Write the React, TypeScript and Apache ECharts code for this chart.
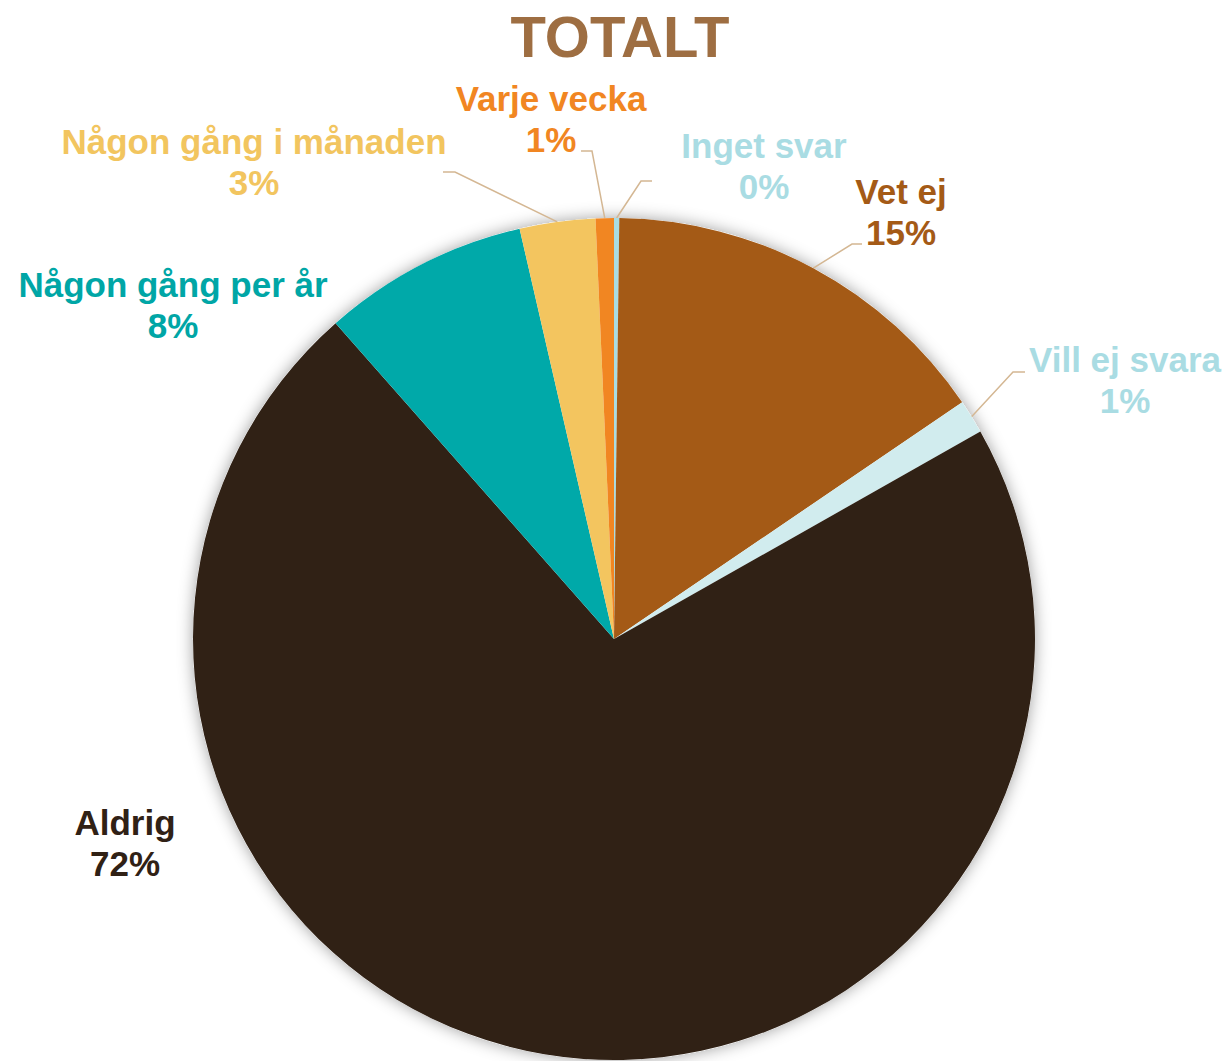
import React, { useEffect, useRef } from "react";
import * as echarts from "echarts";

// ---- data ----
const categories = [
  "Inget svar",
  "Vet ej",
  "Vill ej svara",
  "Aldrig",
  "Någon gång per år",
  "Någon gång i månaden",
  "Varje vecka",
];
const values = [0.2, 15.3, 1.3, 71.7, 7.9, 2.9, 0.7];
const sliceColors = ["#A9DDE3", "#A45A16", "#D1ECEE", "#302115", "#00A9A9", "#F3C55F", "#F18622"];
const labelColors = ["#A9DCE3", "#A45A16", "#A9DCE3", "#302115", "#00A6A6", "#F2C55F", "#F18622"];
const titleText = "TOTALT";

// ---- layout (label anchors and leader-line bends, in px) ----
const labelPlacement: { x: number; y: number; bend?: number[]; end?: number[] }[] = [
  { x: 764, y: 166, bend: [641, 181], end: [652, 181] },
  { x: 901, y: 212, bend: [852, 244], end: [862, 244] },
  { x: 1125, y: 380, bend: [1013, 372], end: [1025, 372] },
  { x: 125, y: 843 },
  { x: 173, y: 305 },
  { x: 254, y: 162, bend: [455, 172], end: [443, 172] },
  { x: 551, y: 119, bend: [592, 151], end: [581, 151] },
];

const CENTER = [614, 639];
const RADIUS = 421;
const FONT = "'Liberation Sans', Arial, Helvetica, sans-serif";

export default function App() {
  const ref = useRef<HTMLDivElement>(null);

  useEffect(() => {
    document.body.style.margin = "0";
    if (!ref.current) return;
    const chart = echarts.init(ref.current, undefined, { renderer: "svg" });
    const data = categories.map((name, i) => ({
      name,
      value: values[i],
      itemStyle: { color: sliceColors[i] },
      label: { color: labelColors[i] },
      labelLine: { show: !!labelPlacement[i].bend },
    }));
    chart.setOption({
      animation: false,
      backgroundColor: "#ffffff",
      title: {
        text: titleText,
        left: 620,
        top: 7,
        padding: 0,
        textAlign: "center",
        textStyle: {
          fontFamily: FONT,
          fontSize: 58,
          fontWeight: "bold",
          color: "#9E6E42",
          lineHeight: 58,
        },
      },
      series: [
        {
          type: "pie",
          silent: true,
          center: CENTER,
          radius: RADIUS,
          startAngle: 90,
          label: { show: false },
          labelLine: { show: false },
          itemStyle: {
            color: "#ffffff",
            shadowBlur: 16,
            shadowColor: "rgba(0,0,0,0.38)",
          },
          data: [{ name: "", value: 1 }],
          z: 1,
        },
        {
          type: "pie",
          center: CENTER,
          radius: RADIUS,
          startAngle: 90,
          clockwise: true,
          avoidLabelOverlap: false,
          itemStyle: { borderWidth: 0 },
          label: {
            show: true,
            position: "outside",
            fontFamily: FONT,
            fontSize: 35,
            fontWeight: "bold",
            lineHeight: 41,
            align: "center",
            formatter: (p: any) => `${p.name}\n${Math.round(p.percent)}%`,
          },
          labelLine: {
            show: true,
            length: 10,
            length2: 10,
            lineStyle: { color: "#D4B793", width: 1.5 },
          },
          labelLayout: (params: any) => {
            const a = labelPlacement[params.dataIndex];
            const res: any = { x: a.x, y: a.y, align: "center", verticalAlign: "middle" };
            if (a.bend && params.labelLinePoints && params.labelLinePoints[0]) {
              res.labelLinePoints = [params.labelLinePoints[0], a.bend, a.end];
            }
            return res;
          },
          data,
          z: 2,
        },
      ],
    });
    return () => chart.dispose();
  }, []);

  return <div ref={ref} style={{ width: 1229, height: 1061 }} />;
}
